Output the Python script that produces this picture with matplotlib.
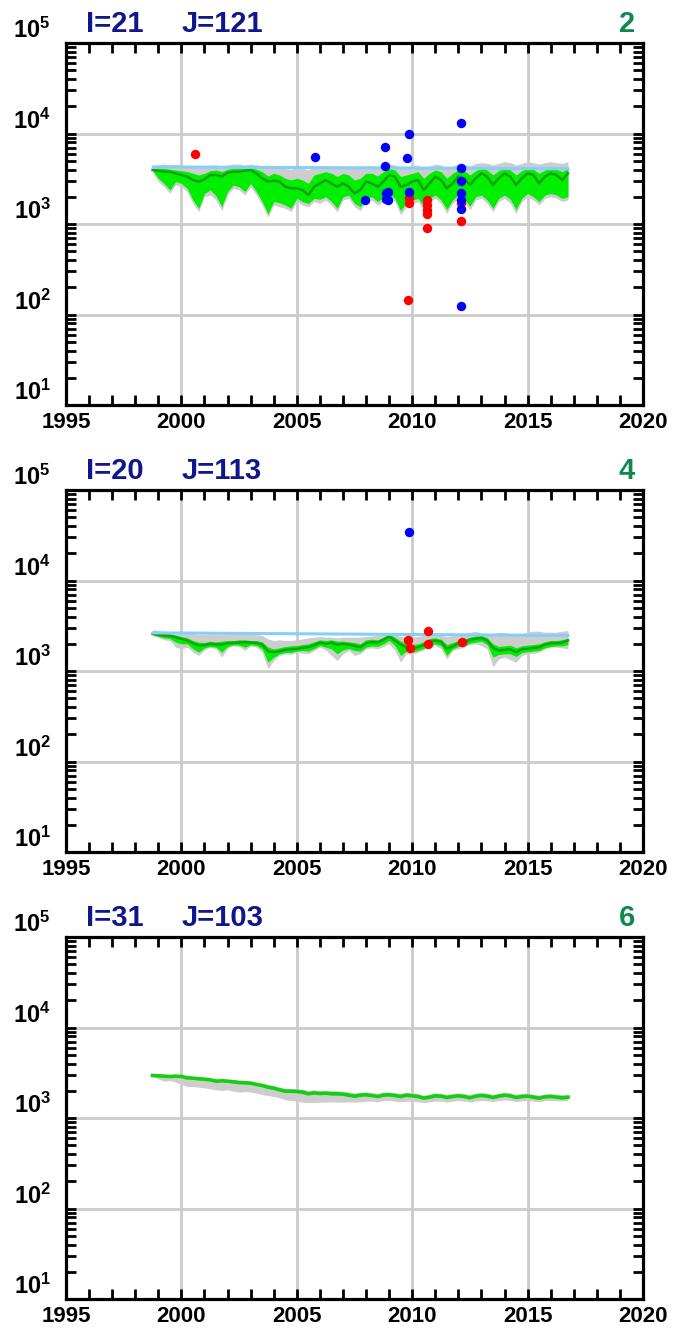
import numpy as np
import matplotlib
matplotlib.use("Agg")
import matplotlib.pyplot as plt
from matplotlib.ticker import LogLocator, NullFormatter

plt.rcParams['font.family'] = ['Liberation Sans', 'DejaVu Sans']
plt.rcParams['mathtext.fontset'] = 'custom'
plt.rcParams['mathtext.rm'] = 'Liberation Sans:bold'
plt.rcParams['mathtext.bf'] = 'Liberation Sans:bold'

# quarterly sample dates, Oct 1998 .. Oct 2016
t = np.arange(1998.75, 2016.76, 0.25)

# ---------- panel 1 : I=21 J=121 ----------
p1_med = [3950, 3885, 3790, 3790, 3630, 3480, 3340, 3060, 2940, 3115, 3480, 3480, 3340, 3690, 3790,
          3790, 3885, 3950, 3630, 3200, 2940, 3010, 2940, 2580, 2480, 2480, 2380, 2090, 2580, 2810,
          3060, 2810, 2580, 2810, 2580, 2180, 2380, 2940, 2810, 2580, 2940, 3480, 3340, 2580, 2700,
          2940, 3060, 2380, 2810, 3340, 3060, 2480, 2810, 3340, 3200, 2700, 3200, 3630, 3340, 2700,
          3200, 3630, 3340, 2700, 3200, 3630, 3480, 2810, 3340, 3630, 3480, 3060, 3630]
p1_gray_lo = [3790, 2940, 2580, 2180, 2700, 2580, 2280, 1690, 1370, 2000, 2090, 1840, 1405, 2090, 2480,
              2380, 2090, 2580, 2090, 1620, 1185, 1620, 1550, 1490, 1370, 1770, 1620, 1550, 1770, 1690,
              1840, 1620, 1370, 1840, 1920, 1550, 1405, 1770, 1840, 1620, 1770, 2000, 1770, 1260, 1550,
              1690, 1770, 1430, 1770, 1920, 1690, 1310, 1690, 1920, 1770, 1430, 1840, 1920, 1690, 1370,
              1770, 1920, 1690, 1310, 1770, 2000, 1840, 1620, 1920, 2000, 1920, 1770, 1840]
p1_green_lo = [3885, 3200, 2810, 2380, 2940, 2810, 2480, 1840, 1490, 2180, 2380, 2040, 1550, 2280, 2700,
               2580, 2280, 2810, 2280, 1770, 1290, 1770, 1720, 1620, 1490, 1920, 1770, 1690, 1920, 1875,
               2000, 1770, 1490, 2000, 2090, 1690, 1550, 1920, 2000, 1770, 1970, 2180, 1920, 1405, 1720,
               1840, 1920, 1580, 1920, 2090, 1840, 1450, 1840, 2090, 1920, 1580, 2000, 2090, 1840, 1490,
               1920, 2090, 1875, 1450, 1920, 2180, 2000, 1770, 2090, 2180, 2090, 1920, 2000]
p1_green_hi = [4120, 4120, 4120, 4020, 3950, 3885, 3790, 3630, 3480, 3630, 3885, 3950, 3790, 4020, 4120,
               4120, 4120, 4230, 4020, 3790, 3390, 3630, 3480, 3200, 3060, 3200, 3060, 2810, 3480, 3630,
               3790, 3630, 3340, 3630, 3480, 3060, 3200, 3630, 3630, 3390, 3790, 4120, 3950, 3340, 3480,
               3630, 3790, 3200, 3630, 3950, 3790, 3200, 3630, 3950, 3885, 3480, 3885, 4120, 3950, 3480,
               3885, 4120, 3950, 3480, 3885, 4120, 4020, 3630, 3950, 4120, 4020, 3790, 4120]
p1_gray_hi = [4375, 4490, 4600, 4490, 4600, 4490, 4375, 4300, 4300, 4375, 4490, 4490, 4375, 4490, 4600,
              4600, 4490, 4600, 4490, 4375, 4230, 4300, 4300, 4120, 4020, 4230, 4120, 3950, 4375, 4375,
              4375, 4300, 4120, 4300, 4300, 4120, 4120, 4375, 4375, 4230, 4490, 4600, 4490, 4230, 4300,
              4375, 4490, 4120, 4375, 4600, 4490, 4120, 4375, 4600, 4600, 4375, 4680, 4760, 4680, 4490,
              4680, 4885, 4760, 4490, 4680, 4885, 4760, 4600, 4760, 4885, 4760, 4680, 4885]
p1_ref_t = [1998.78, 2016.75]
p1_ref = [4270, 4080]
p1_red_t = [2000.59, 2009.8, 2009.86, 2009.86, 2010.62, 2010.62, 2010.62, 2010.62, 2010.62, 2012.1, 2012.1]
p1_red = [5900, 145, 1920, 1720, 1840, 1620, 1430, 1290, 911, 1700, 1088]
p1_blue_t = [2005.79, 2007.94, 2008.82, 2008.82, 2008.95, 2008.85, 2008.85, 2008.96, 2009.88, 2009.78,
             2009.86, 2012.12, 2012.12, 2012.12, 2012.12, 2012.1, 2012.1, 2012.1]
p1_blue = [5460, 1865, 7150, 4400, 2283, 2180, 1870, 1820, 9770, 5410,
           2250, 12970, 4190, 3010, 2180, 1840, 1465, 124]

# ---------- panel 2 : I=20 J=113 ----------
p2_med = [2575, 2510, 2468, 2447, 2365, 2267, 2173, 2030, 1913, 1930, 1996, 1962, 1962, 2030, 2048,
          2065, 2083, 2065, 2048, 1962, 1657, 1615, 1657, 1714, 1743, 1758, 1803, 1834, 1930, 2065,
          1996, 2065, 1962, 1996, 1962, 1897, 1834, 2030, 2083, 2065, 2210, 2406, 2173, 1962, 1834,
          1758, 1834, 1930, 2136, 2173, 2101, 1758, 1865, 2030, 2083, 2210, 2267, 2325, 2173, 1803,
          1685, 1714, 1743, 1615, 1743, 1758, 1803, 1834, 1962, 2030, 2030, 2065, 2173]
p2_gray_lo = [2468, 2365, 2210, 2173, 1834, 1758, 1834, 1615, 1484, 1714, 1834, 1758, 1422, 1803, 1897,
              1865, 1685, 1897, 1834, 1615, 1057, 1306, 1484, 1548, 1522, 1615, 1574, 1548, 1685, 1834,
              1714, 1484, 1306, 1548, 1685, 1484, 1548, 1758, 1803, 1758, 1865, 1996, 1685, 1252, 1548,
              1548, 1615, 1714, 1865, 1913, 1758, 1363, 1685, 1758, 1834, 1962, 1996, 1913, 1758, 1103,
              1363, 1422, 1329, 1252, 1484, 1548, 1574, 1615, 1758, 1834, 1834, 1803, 1758]
p2_green_lo = [2510, 2406, 2325, 2286, 2083, 1996, 1996, 1758, 1615, 1803, 1865, 1834, 1615, 1865, 1946,
               1930, 1834, 1946, 1913, 1758, 1252, 1422, 1548, 1601, 1601, 1657, 1685, 1657, 1773, 1913,
               1834, 1758, 1548, 1714, 1773, 1685, 1657, 1834, 1897, 1865, 1996, 2173, 1913, 1484, 1657,
               1615, 1685, 1773, 1962, 1996, 1897, 1484, 1758, 1865, 1913, 2030, 2083, 2136, 1962, 1422,
               1522, 1548, 1548, 1446, 1601, 1629, 1657, 1685, 1803, 1865, 1897, 1897, 1962]
p2_green_hi = [2663, 2618, 2575, 2575, 2488, 2406, 2325, 2173, 2083, 2065, 2136, 2101, 2136, 2173, 2173,
               2210, 2210, 2173, 2173, 2101, 1834, 1758, 1803, 1865, 1897, 1913, 1962, 1996, 2101, 2210,
               2173, 2210, 2136, 2136, 2101, 2065, 1996, 2210, 2248, 2210, 2365, 2531, 2365, 2136, 1996,
               1962, 1996, 2101, 2286, 2325, 2248, 1962, 2065, 2173, 2248, 2365, 2447, 2468, 2325, 1996,
               1865, 1897, 1930, 1803, 1897, 1930, 1962, 1996, 2101, 2173, 2173, 2210, 2325]
p2_gray_hi = [2850, 2802, 2686, 2618, 2575, 2618, 2618, 2575, 2531, 2531, 2575, 2575, 2531, 2575, 2575,
              2575, 2575, 2575, 2531, 2468, 2267, 2173, 2210, 2173, 2173, 2210, 2267, 2325, 2365, 2406,
              2365, 2365, 2325, 2365, 2365, 2365, 2365, 2406, 2447, 2468, 2531, 2575, 2531, 2406, 2365,
              2365, 2406, 2468, 2468, 2468, 2468, 2406, 2468, 2468, 2531, 2663, 2755, 2618, 2575, 2575,
              2663, 2663, 2575, 2468, 2575, 2686, 2755, 2755, 2686, 2686, 2686, 2755, 2802]
p2_ref_t = [1998.78, 2016.75]
p2_ref = [2640, 2470]
p2_red_t = [2009.83, 2009.9, 2010.67, 2010.67, 2012.14]
p2_red = [2210, 1790, 2760, 2000, 2080]
p2_blue_t = [2009.86]
p2_blue = [34500]

# ---------- panel 3 : I=31 J=103 ----------
p3_med = [2949, 2924, 2900, 2875, 2900, 2875, 2779, 2755, 2709, 2686, 2641, 2553, 2575, 2553, 2510,
          2468, 2447, 2427, 2346, 2286, 2191, 2136, 2048, 1979, 1979, 1962, 1930, 1849, 1897, 1865,
          1881, 1849, 1849, 1834, 1788, 1743, 1788, 1803, 1773, 1728, 1788, 1803, 1773, 1728, 1788,
          1758, 1728, 1657, 1699, 1758, 1743, 1685, 1728, 1758, 1728, 1671, 1743, 1773, 1743, 1685,
          1743, 1788, 1758, 1685, 1728, 1743, 1699, 1657, 1714, 1728, 1699, 1671, 1699]
p3_gray_lo = [2875, 2709, 2553, 2597, 2489, 2346, 2229, 2229, 2191, 2154, 2101, 2048, 2013, 2048, 1979,
              1930, 1962, 1930, 1881, 1818, 1773, 1728, 1671, 1588, 1561, 1535, 1496, 1484, 1484, 1496,
              1496, 1509, 1496, 1496, 1509, 1496, 1509, 1535, 1535, 1509, 1561, 1561, 1535, 1509, 1535,
              1535, 1509, 1484, 1509, 1535, 1535, 1496, 1535, 1561, 1535, 1509, 1535, 1561, 1548, 1522,
              1561, 1588, 1561, 1522, 1548, 1561, 1535, 1509, 1561, 1561, 1548, 1548, 1561]
p3_gray_hi = [2999, 2999, 2974, 2974, 2974, 2949, 2875, 2850, 2802, 2779, 2732, 2663, 2686, 2663, 2641,
              2597, 2575, 2553, 2489, 2427, 2346, 2286, 2191, 2118, 2118, 2118, 2083, 2013, 2048, 2013,
              2030, 2013, 1996, 1979, 1946, 1897, 1930, 1946, 1913, 1865, 1930, 1946, 1913, 1865, 1930,
              1897, 1865, 1788, 1834, 1897, 1881, 1818, 1865, 1897, 1865, 1803, 1881, 1913, 1881, 1818,
              1881, 1930, 1897, 1818, 1865, 1881, 1834, 1788, 1849, 1865, 1834, 1803, 1834]

panels = [
    dict(I=21, J=121, num="2", med=p1_med, glo=p1_gray_lo, ghi=p1_gray_hi, nlo=p1_green_lo,
         nhi=p1_green_hi, ref_t=p1_ref_t, ref=p1_ref, red_t=p1_red_t, red=p1_red,
         blue_t=p1_blue_t, blue=p1_blue),
    dict(I=20, J=113, num="4", med=p2_med, glo=p2_gray_lo, ghi=p2_gray_hi, nlo=p2_green_lo,
         nhi=p2_green_hi, ref_t=p2_ref_t, ref=p2_ref, red_t=p2_red_t, red=p2_red,
         blue_t=p2_blue_t, blue=p2_blue),
    dict(I=31, J=103, num="6", med=p3_med, glo=p3_gray_lo, ghi=p3_gray_hi, nlo=None,
         nhi=None, ref_t=None, ref=None, red_t=None, red=None, blue_t=None, blue=None),
]

NAVY = "#10168c"
NUMGREEN = "#0f8a4c"
GRAY = "#cdcdcd"
BRIGHT = "#00ee00"
DARK = "#16a016"

fig = plt.figure(figsize=(6.97, 13.33), dpi=100)
W, H = 697.0, 1333.0
tops = [43, 490, 937]
for p, top in zip(panels, tops):
    ax = fig.add_axes([66 / W, 1 - (top + 362) / H, 577 / W, 362 / H])
    ax.set_yscale("log")
    ax.set_xlim(1995, 2020)
    ax.set_ylim(10, 1e5)

    ax.fill_between(t, p["glo"], p["ghi"], color=GRAY, lw=0, zorder=2)
    if p["nlo"] is not None:
        ax.fill_between(t, p["nlo"], p["nhi"], color=BRIGHT, lw=0, zorder=3)
        ax.plot(t, p["med"], color=DARK, lw=1.8, zorder=4)
    else:
        ax.plot(t, p["med"], color="#10d010", lw=2.6, zorder=4)
    if p["ref"] is not None:
        ax.plot(p["ref_t"], p["ref"], color="#87cefa", lw=2.2, zorder=5)
    if p["red"] is not None:
        ax.scatter(p["red_t"], p["red"], s=46, color="#ff0000", lw=0, zorder=6)
        ax.scatter(p["blue_t"], p["blue"], s=46, color="#0000ff", lw=0, zorder=7)

    # grid only at 5-year / decade positions
    ax.set_xticks([1995, 2000, 2005, 2010, 2015, 2020])
    ax.set_xticks(range(1995, 2021), minor=True)
    ax.set_xticklabels(["1995", "2000", "2005", "2010", "2015", "2020"],
                       fontsize=16, fontweight="bold")
    ax.set_yticks([10, 100, 1000, 1e4, 1e5])
    ax.set_yticklabels([r"$\mathbf{10^{%d}}$" % e for e in range(1, 6)], fontsize=17)
    ax.yaxis.set_minor_locator(LogLocator(base=10, subs=range(2, 10), numticks=20))
    ax.yaxis.set_minor_formatter(NullFormatter())
    for lab in ax.get_yticklabels():
        lab.set_verticalalignment("bottom")
    ax.grid(True, which="major", color="#cccccc", lw=2.0, zorder=1)
    ax.set_axisbelow(True)
    ax.tick_params(which="both", direction="in", top=True, right=True, length=7, width=2)
    ax.tick_params(axis="y", which="major", pad=11)
    ax.tick_params(axis="x", which="major", pad=5)
    for s in ax.spines.values():
        s.set_linewidth(2.3)
        s.set_zorder(10)

    ax.text(0.035, 1.03, f"I={p['I']}", transform=ax.transAxes, fontsize=21,
            fontweight="bold", color=NAVY, va="baseline", ha="left")
    ax.text(0.201, 1.03, f"J={p['J']}", transform=ax.transAxes, fontsize=21,
            fontweight="bold", color=NAVY, va="baseline", ha="left")
    ax.text(0.986, 1.03, p["num"], transform=ax.transAxes, fontsize=21,
            fontweight="bold", color=NUMGREEN, va="baseline", ha="right")

fig.savefig("out.png", dpi=100, facecolor="white")
